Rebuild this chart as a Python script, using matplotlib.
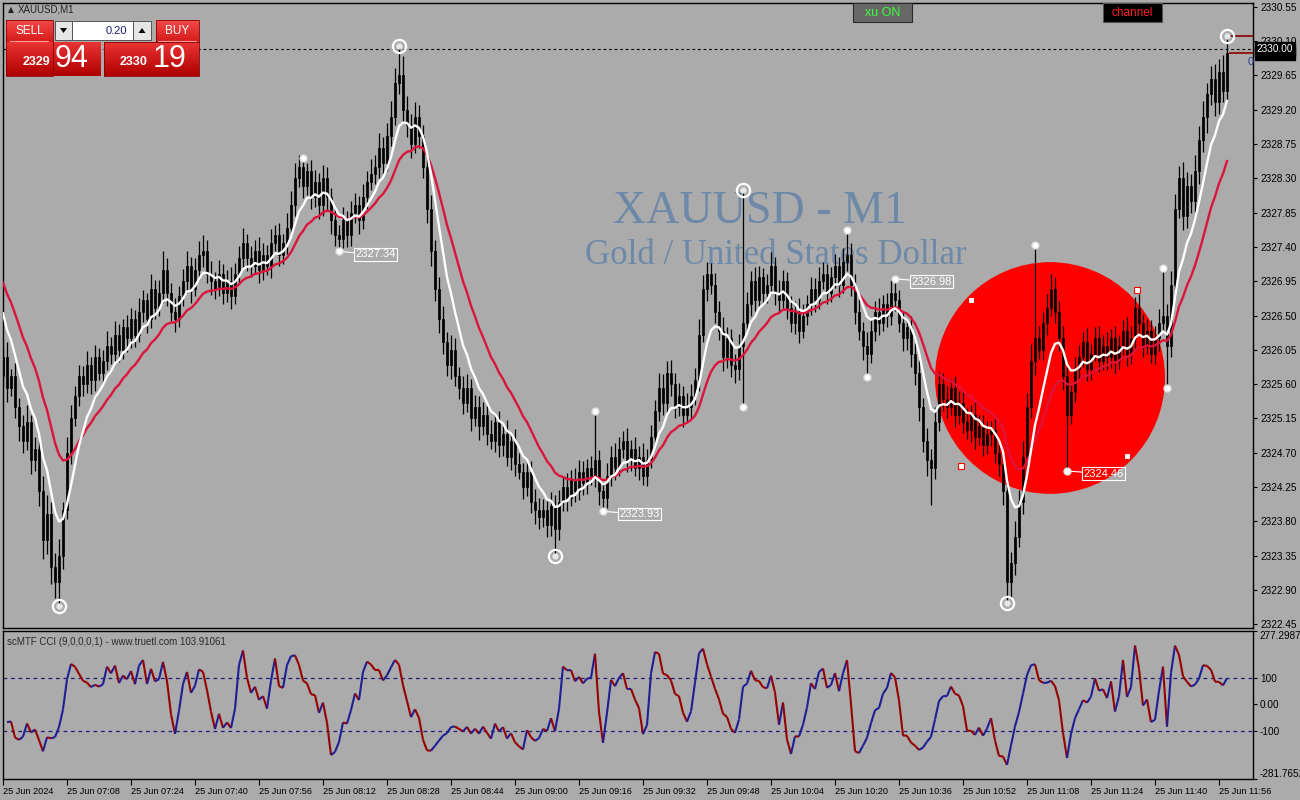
import numpy as np
import pandas as pd
import matplotlib
matplotlib.use('Agg')
import matplotlib.pyplot as plt
from matplotlib.patches import Rectangle, Ellipse, Polygon
from matplotlib.collections import LineCollection
from matplotlib.transforms import blended_transform_factory

plt.rcParams['font.family'] = ['Liberation Sans', 'DejaVu Sans']
BG = '#ababab'

# ---------------- data ----------------
symbol = 'XAUUSD'
first_open = 2325.70
closes = [
    2325.95, 2325.55, 2325.70, 2325.30, 2325.05,
    2324.85, 2325.10, 2324.60, 2324.75, 2324.20,
    2323.55, 2323.90, 2323.20, 2323.00, 2323.35,
    2323.95, 2324.70, 2325.15, 2325.45, 2325.70,
    2325.60, 2325.85, 2325.65, 2325.95, 2325.75, 2325.90, 2326.10,
    2326.00, 2326.25, 2326.05, 2326.35, 2326.20,
    2326.45, 2326.25, 2326.55, 2326.70, 2326.45, 2326.85, 2326.60, 2326.80,
    2327.10, 2326.80, 2326.55, 2326.45, 2326.75,
    2326.95, 2327.15, 2326.85, 2327.10, 2327.30,
    2327.35, 2327.05, 2326.95, 2326.85, 2327.05,
    2326.80, 2326.95, 2326.75, 2327.05, 2327.25,
    2327.45, 2327.25, 2327.15, 2327.35, 2327.10,
    2327.30, 2327.15, 2327.45, 2327.55, 2327.30, 2327.45, 2327.65,
    2327.95, 2328.30, 2328.45, 2328.20, 2328.40,
    2328.05, 2328.25, 2327.95, 2328.30, 2328.05,
    2327.75, 2327.55, 2327.50, 2327.75, 2327.55, 2327.85,
    2327.95, 2327.75, 2328.05, 2328.25, 2328.35,
    2328.45, 2328.70, 2328.50, 2328.85, 2329.10,
    2329.55, 2329.65, 2329.20,
    2329.00, 2328.75, 2329.10, 2328.85,
    2328.45, 2327.90, 2327.35, 2326.85, 2326.45,
    2326.15, 2325.85, 2326.05, 2325.70, 2325.55,
    2325.35, 2325.55, 2325.15, 2325.30, 2325.05,
    2325.20, 2324.95, 2324.85, 2325.10, 2324.80,
    2324.95, 2324.65, 2324.85, 2324.55, 2324.45,
    2324.25, 2324.45, 2324.05, 2323.95, 2323.85,
    2323.95, 2323.75, 2324.00, 2323.70,
    2324.05, 2324.25, 2324.10, 2324.35, 2324.20, 2324.45,
    2324.30, 2324.50, 2324.40, 2324.60, 2324.20,
    2324.10, 2324.40, 2324.65, 2324.50, 2324.75,
    2324.85, 2324.60, 2324.75, 2324.50, 2324.65, 2324.40, 2324.60,
    2324.90, 2325.25, 2325.55, 2325.35, 2325.75, 2325.60,
    2325.30, 2325.45, 2325.20, 2325.30, 2325.45,
    2325.65, 2326.25, 2326.85, 2327.05, 2326.90,
    2326.55, 2326.30, 2325.95, 2326.20, 2325.85,
    2325.80, 2326.10, 2326.40,
    2326.65, 2326.95, 2326.70, 2327.00, 2326.80,
    2326.90, 2327.15, 2326.80, 2326.70, 2326.95,
    2326.60, 2326.40, 2326.55, 2326.30, 2326.50, 2326.65,
    2326.85, 2326.70, 2326.95, 2327.05, 2326.80,
    2327.00, 2327.15, 2326.90, 2327.20, 2327.30,
    2326.90, 2326.55, 2326.30, 2326.10, 2326.00,
    2326.30, 2326.55, 2326.40, 2326.65, 2326.50, 2326.80,
    2326.70, 2326.40, 2326.20, 2326.35, 2326.00,
    2325.75, 2325.30, 2324.85, 2324.60, 2324.50, 2325.10,
    2325.60, 2325.40, 2325.30, 2325.55, 2325.20, 2325.35,
    2325.10, 2325.00, 2325.20, 2324.90, 2325.05, 2324.80,
    2324.95, 2325.00, 2324.70, 2324.55, 2324.20,
    2323.00, 2323.25, 2323.60,
    2324.05, 2324.65, 2325.30, 2325.90, 2326.20,
    2326.05, 2326.40, 2326.60, 2326.85, 2326.55,
    2326.20, 2325.70, 2325.20, 2325.50, 2325.80,
    2325.95, 2326.15, 2325.80, 2326.00, 2326.20, 2325.90,
    2326.10, 2325.95, 2326.20, 2325.90, 2326.10, 2326.30, 2326.00,
    2326.20, 2326.60, 2326.40, 2326.10, 2326.30,
    2326.00, 2326.20, 2326.40, 2326.50, 2326.10,
    2326.90, 2327.90, 2328.30, 2327.80, 2328.20,
    2328.00, 2328.40, 2328.80, 2329.10, 2329.40,
    2329.60, 2329.30, 2329.70, 2329.45, 2329.94,
]
# wick lengths in cents above / below the candle body
upper_wick_c = [
    15, 20, 10, 18, 12,
    14, 22, 10, 16, 12,
    20, 25, 15, 18, 22,
    10, 20, 18, 12, 15,
    14, 18, 10, 16, 12, 15, 20,
    12, 18, 14, 10, 16,
    15, 12, 18, 14, 10, 20, 12, 16,
    25, 15, 12, 18, 14,
    16, 20, 12, 15, 18,
    20, 14, 16, 12, 18,
    12, 15, 18, 14, 16,
    20, 12, 16, 14, 18,
    15, 12, 18, 14, 16, 12, 20,
    18, 20, 15, 12, 10,
    14, 16, 12, 18, 15,
    12, 16, 14, 18, 12, 15,
    16, 12, 18, 14, 20,
    15, 20, 14, 18, 22,
    20, 38, 25,
    18, 14, 20, 16,
    15, 20, 18, 14, 16,
    18, 14, 20, 16, 12,
    15, 18, 12, 16, 14,
    16, 12, 18, 14, 15,
    14, 18, 12, 16, 15,
    12, 16, 14, 18, 15,
    14, 12, 18, 15,
    16, 14, 18, 12, 15, 16,
    14, 12, 16, 65, 14,
    12, 16, 14, 18, 15,
    14, 18, 12, 16, 14, 18, 15,
    16, 14, 20, 18, 15, 16,
    14, 16, 12, 18, 15,
    16, 20, 18, 15, 14,
    16, 14, 18, 15, 12,
    14, 16, 175,
    16, 14, 18, 15, 12,
    14, 18, 12, 16, 15,
    12, 16, 14, 18, 15, 12,
    16, 14, 18, 15, 12,
    14, 16, 12, 18, 32,
    15, 14, 16, 12, 18,
    16, 14, 18, 12, 15, 16,
    18, 14, 16, 12, 15,
    14, 16, 12, 18, 15, 20,
    16, 14, 18, 12, 15, 16,
    14, 18, 12, 16, 15, 14,
    16, 12, 18, 14, 15,
    18, 15, 20,
    16, 20, 18, 22, 123,
    16, 14, 18, 20, 15,
    14, 16, 18, 12, 15,
    16, 14, 18, 12, 15, 16,
    14, 18, 12, 16, 15, 14, 18,
    16, 14, 18, 12, 15,
    14, 16, 18, 62, 15,
    18, 20, 16, 22, 18,
    16, 20, 18, 22, 15,
    18, 20, 16, 22, 23,
]
lower_wick_c = [
    12, 18, 10, 15, 20,
    16, 12, 18, 14, 20,
    25, 18, 22, 20, 31,
    18, 12, 15, 10, 14,
    16, 12, 18, 14, 10, 15, 12,
    14, 10, 16, 12, 18,
    12, 16, 10, 14, 18, 12, 15, 10,
    14, 18, 12, 16, 10,
    12, 15, 18, 10, 14,
    16, 12, 18, 14, 10,
    15, 12, 16, 10, 14,
    12, 16, 14, 10, 18,
    14, 12, 16, 10, 15, 12, 14,
    10, 14, 12, 16, 12,
    15, 12, 18, 14, 16,
    18, 14, 16, 12, 15, 14,
    14, 18, 12, 15, 10,
    12, 14, 16, 10, 12,
    10, 14, 18,
    16, 18, 12, 15,
    14, 18, 20, 16, 18,
    16, 14, 18, 12, 15,
    14, 12, 16, 10, 18,
    12, 15, 10, 14, 16,
    14, 12, 18, 15, 10,
    16, 12, 14, 18, 15,
    12, 16, 14, 35,
    14, 12, 16, 10, 15, 12,
    16, 14, 12, 15, 18,
    17, 12, 14, 16, 10,
    12, 15, 14, 10, 16, 12, 14,
    10, 12, 14, 16, 12, 15,
    14, 12, 16, 10, 15,
    12, 14, 10, 16, 12,
    15, 12, 18, 14, 16,
    18, 14, 80,
    12, 15, 14, 10, 16,
    14, 12, 16, 15, 10,
    15, 12, 14, 16, 10, 12,
    14, 16, 12, 10, 15,
    12, 14, 16, 10, 12,
    14, 16, 12, 18, 31,
    12, 14, 16, 10, 15, 12,
    14, 12, 16, 15, 18,
    16, 18, 14, 20, 49, 15,
    12, 15, 14, 10, 16, 12,
    14, 12, 16, 15, 10, 14,
    12, 16, 14, 15, 18,
    27, 20, 15,
    14, 16, 12, 15, 18,
    12, 14, 16, 10, 15,
    16, 18, 74, 12, 14,
    14, 12, 16, 15, 10, 14,
    12, 16, 14, 15, 10, 12, 16,
    14, 12, 16, 15, 10,
    12, 14, 16, 10, 55,
    14, 16, 12, 18, 15,
    16, 14, 18, 15, 20,
    14, 18, 16, 15, 12,
]

# moving averages (values at the left edge)
fast_period, fast_seed = 8, 2326.53
slow_period, slow_seed = 18, 2326.93
cci_period = 9

# swing markers (candle indices)
dot_high_idx = [75, 148, 211, 223, 258, 290]
dot_low_idx = [84, 150, 185, 216, 266, 291]
ring_high_idx = [99, 185, 306]
ring_low_idx = [14, 138, 251]
label_low_idx = [84, 150, 266]
label_high_idx = [223]
channel_sq_x = [239.5, 242, 281, 283.5]
channel_sq_p = [2324.53, 2326.70, 2324.66, 2326.84]
circle_center = (261.75, 2325.68)
circle_size = (57.5, 3.04)

ask_line = 2330.00
price_ticks = [2322.45, 2322.90, 2323.35, 2323.80, 2324.25, 2324.70, 2325.15,
               2325.60, 2326.05, 2326.50, 2326.95, 2327.40, 2327.85, 2328.30,
               2328.75, 2329.20, 2329.65, 2330.10, 2330.55]
time_tick_idx = list(range(0, 305, 16))
time_labels = ['25 Jun 2024', '25 Jun 07:08', '25 Jun 07:24', '25 Jun 07:40',
               '25 Jun 07:56', '25 Jun 08:12', '25 Jun 08:28', '25 Jun 08:44',
               '25 Jun 09:00', '25 Jun 09:16', '25 Jun 09:32', '25 Jun 09:48',
               '25 Jun 10:04', '25 Jun 10:20', '25 Jun 10:36', '25 Jun 10:52',
               '25 Jun 11:08', '25 Jun 11:24', '25 Jun 11:40', '25 Jun 11:56']
cci_min, cci_max = -281.7652, 277.29879
cci_levels = [-100, 0, 100]
cci_last_text = '103.91061'

# ---------------- derived ----------------
c = np.array(closes)
o = np.array([first_open] + closes[:-1])
h = np.maximum(o, c) + np.array(upper_wick_c) / 100.0
l = np.minimum(o, c) - np.array(lower_wick_c) / 100.0
x = np.arange(len(c))


def ema(vals, n, seed):
    a = 2.0 / (n + 1)
    out = np.empty(len(vals))
    out[0] = seed
    for i in range(1, len(vals)):
        out[i] = a * vals[i] + (1 - a) * out[i - 1]
    return out


fast = ema(c, fast_period, fast_seed)
slow = ema(c, slow_period, slow_seed)
tp = pd.Series((h + l + c) / 3.0)
sma = tp.rolling(cci_period, min_periods=2).mean()
md = tp.rolling(cci_period, min_periods=2).apply(lambda w: np.mean(np.abs(w - w.mean())), raw=True)
cci = ((tp - sma) / (0.015 * md)).to_numpy()

# ---------------- figure ----------------
W, H = 1300, 800
fig = plt.figure(figsize=(13, 8), dpi=100, facecolor=BG)
ax = fig.add_axes([3 / W, 1 - 628 / H, 1250 / W, 625 / H], facecolor=BG)
cax = fig.add_axes([3 / W, 1 - 779 / H, 1250 / W, 148 / H], facecolor=BG)
XMAX = 312.5

# watermark
ax.text(760 / W, 1 - 212 / H, f'{symbol} - M1', transform=fig.transFigure,
        ha='center', va='center', fontsize=33, family='Liberation Serif',
        color='#6e88a8', zorder=0.5)
ax.text(776 / W, 1 - 255 / H, 'Gold / United States Dollar', transform=fig.transFigure,
        ha='center', va='center', fontsize=25, family='Liberation Serif',
        color='#6e88a8', zorder=0.5)

ax.add_patch(Ellipse(circle_center, circle_size[0], circle_size[1],
                     facecolor='#ff0000', edgecolor='none', zorder=1))

# candles
ax.vlines(x, l, h, color='black', lw=0.9, zorder=3)
bull = c >= o
ax.bar(x[bull], (c - o)[bull], bottom=o[bull], width=0.6, color='black',
       edgecolor='black', lw=0.5, zorder=4)
ax.bar(x[~bull], (o - c)[~bull], bottom=c[~bull], width=0.6, color='black',
       edgecolor='black', lw=0.5, zorder=4)

ax.plot(x, slow, color='#dc143c', lw=1.7, zorder=5)
ax.plot(x, fast, color='white', lw=1.7, zorder=6)

ax.axhline(ask_line, color='black', lw=0.8, ls=(0, (2.5, 2.5)), zorder=2)
ax.hlines([h[-1], c[-1]], x[-1] + 0.4, XMAX, color='#8b0000', lw=1.2, zorder=6)

# markers
ax.plot(dot_high_idx, h[dot_high_idx], 'o', color='white', ms=5, mec='#dddddd', zorder=8)
ax.plot(dot_low_idx, l[dot_low_idx], 'o', color='white', ms=5, mec='#dddddd', zorder=8)
ring_x = ring_high_idx + ring_low_idx
ring_y = list(h[ring_high_idx]) + list(l[ring_low_idx])
ax.plot(ring_x, ring_y, 'o', mfc='none', mec='white', mew=1.6, ms=9.5, zorder=8)
ax.plot(ring_x, ring_y, 'o', color='#e8e8e8', ms=3.5, zorder=8)
ax.plot(channel_sq_x, channel_sq_p, 's', mfc='white', mec='#ff0000', mew=0.8, ms=4, zorder=8)

lab_pts = [(i, l[i]) for i in label_low_idx] + [(i, h[i]) for i in label_high_idx]
for i, p in lab_pts:
    ax.annotate(f'{p:.2f}', xy=(i, p), xytext=(12, -2), textcoords='offset points',
                color='white', fontsize=8, va='center', ha='left', zorder=9,
                bbox=dict(boxstyle='square,pad=0.12', fc='none', ec='white', lw=0.8),
                arrowprops=dict(arrowstyle='-', color='white', lw=0.8, shrinkA=0, shrinkB=3))

ax.set_xlim(0, XMAX)
ax.set_ylim(2322.40, 2330.60)
ax.set_xticks([])
ax.yaxis.tick_right()
ax.set_yticks(price_ticks)
ax.set_yticklabels([f'{p:.2f}' for p in price_ticks])
ax.tick_params(axis='y', length=3, width=0.8, pad=2, labelsize=7.2, colors='black')
for s in ax.spines.values():
    s.set_color('black'); s.set_linewidth(1.0)

tr = blended_transform_factory(ax.transAxes, ax.transData)
ax.text(1.003, c[-1], f'{c[-1]:.2f}', transform=tr, va='center', ha='left', color='white',
        fontsize=7.2, clip_on=False, zorder=10,
        bbox=dict(boxstyle='square,pad=0.15', fc='black', ec='black'))
ax.text(1.003, ask_line, f'{ask_line:.2f}', transform=tr, va='center', ha='left', color='white',
        fontsize=7.2, clip_on=False, zorder=11,
        bbox=dict(boxstyle='square,pad=0.15', fc='black', ec='black'))

# ---------------- CCI panel ----------------
pts = np.column_stack([x, cci])
segs = np.stack([pts[:-1], pts[1:]], axis=1)
ok = ~np.isnan(segs).any(axis=(1, 2))
cols = np.where(np.diff(cci) >= 0, '#1e1e96', '#960000')
cax.add_collection(LineCollection(segs[ok], colors=cols[ok], linewidths=1.5, zorder=3))
for lv in (-100, 100):
    cax.axhline(lv, color='#1e1e7a', lw=0.9, ls=(0, (3, 3)), zorder=2)
cax.set_xlim(0, XMAX)
cax.set_ylim(cci_min, cci_max)
cax.yaxis.tick_right()
cax.set_yticks(cci_levels + [cci_min, cci_max])
cax.set_yticklabels(['-100', '0.00', '100', '', ''])
cax.tick_params(axis='y', length=3, width=0.8, pad=2, labelsize=7.2, colors='black')
cax.set_xticks(time_tick_idx)
cax.set_xticklabels(time_labels, ha='left')
cax.tick_params(axis='x', length=4, width=0.8, pad=2, labelsize=6.6, colors='black')
for s in cax.spines.values():
    s.set_color('black'); s.set_linewidth(1.0)
ctr = blended_transform_factory(cax.transAxes, cax.transData)
cax.text(1.005, cci_max, f'{cci_max:.5f}', transform=ctr, va='top', ha='left',
         fontsize=7.2, clip_on=False)
cax.text(1.005, cci_min, f'{cci_min:.4f}', transform=ctr, va='bottom', ha='left',
         fontsize=7.2, clip_on=False)
cax.text(0.003, 0.96, f'scMTF CCI ({cci_period},0,0,0,1) - www.truetl.com {cci_last_text}',
         transform=cax.transAxes, va='top', ha='left', fontsize=7, color='#2a2a2a')

# ---------------- overlay: trade panel & buttons ----------------
ov = fig.add_axes([0, 0, 1, 1])
ov.set_xlim(0, W); ov.set_ylim(H, 0); ov.axis('off'); ov.patch.set_alpha(0)


def grad(x0, y0, w, hgt, top, bot):
    t = np.array(matplotlib.colors.to_rgb(top)); b = np.array(matplotlib.colors.to_rgb(bot))
    g = np.linspace(0, 1, 50)[:, None, None]
    img = t * (1 - g) + b * g
    ov.imshow(img, extent=[x0, x0 + w, y0 + hgt, y0], aspect='auto', interpolation='bilinear', zorder=2)


ov.text(8, 10, '▲', fontsize=5.5, color='#222222', va='center', ha='left', family='DejaVu Sans')
ov.text(18, 10, f'{symbol},M1', fontsize=7, color='#222222', va='center', ha='left')

grad(6, 42, 95, 34, '#ea3434', '#b00000')
grad(104, 42, 95, 34, '#ea3434', '#b00000')
grad(6, 20, 47, 22, '#f24a4a', '#d61a1a')
grad(156, 20, 43, 22, '#f24a4a', '#d61a1a')
ov.add_patch(Rectangle((6, 20), 47, 56, fill=False, ec='#8a0000', lw=0.6, zorder=3))
ov.add_patch(Rectangle((104, 42), 95, 34, fill=False, ec='#8a0000', lw=0.6, zorder=3))
ov.add_patch(Rectangle((156, 20), 43, 22, fill=False, ec='#8a0000', lw=0.6, zorder=3))
ov.plot([10, 48], [41, 41], color='#ff9a9a', lw=0.8, zorder=4)
ov.plot([158, 196], [41, 41], color='#ff9a9a', lw=0.8, zorder=4)
ov.text(29.5, 31, 'SELL', color='white', fontsize=8.5, ha='center', va='center', zorder=5)
ov.text(177.5, 31, 'BUY', color='white', fontsize=8.5, ha='center', va='center', zorder=5)
# lot spinner
ov.add_patch(Rectangle((55, 21), 96, 19, fc='white', ec='#555555', lw=0.7, zorder=3))
ov.add_patch(Rectangle((55, 21), 17, 19, fc='#e6e6e6', ec='#555555', lw=0.7, zorder=4))
ov.add_patch(Rectangle((133, 21), 18, 19, fc='#e6e6e6', ec='#555555', lw=0.7, zorder=4))
ov.add_patch(Polygon([[60, 28], [67, 28], [63.5, 33]], closed=True, fc='black', zorder=5))
ov.add_patch(Polygon([[138.5, 33], [145.5, 33], [142, 28]], closed=True, fc='black', zorder=5))
ov.text(127, 30.5, '0.20', color='#1a1a6e', fontsize=8, ha='right', va='center', zorder=5)
ov.text(36, 62, '2329', color='white', fontsize=9, fontweight='bold', ha='center', va='center', zorder=5)
ov.text(72, 59, '94', color='white', fontsize=22, ha='center', va='center', zorder=5)
ov.text(134, 62, '2330', color='white', fontsize=9, fontweight='bold', ha='center', va='center', zorder=5)
ov.text(170, 59, '19', color='white', fontsize=22, ha='center', va='center', zorder=5)

# indicator buttons
ov.add_patch(Rectangle((853, 3), 59, 19, fc='#686868', ec='#2a2a2a', lw=0.8, zorder=3))
ov.text(882.5, 13, 'xu ON', color='#3cff3c', fontsize=9, ha='center', va='center', zorder=5)
ov.add_patch(Rectangle((1103, 3), 59, 19, fc='black', ec='#555555', lw=0.8, zorder=3))
ov.text(1132.5, 13, 'channel', color='#ff2020', fontsize=8.5, ha='center', va='center', zorder=5)
ov.text(1251, 62, '0', color='#2a3f8f', fontsize=8, ha='center', va='center', zorder=5)

fig.savefig('out.png', dpi=100, facecolor=BG)
